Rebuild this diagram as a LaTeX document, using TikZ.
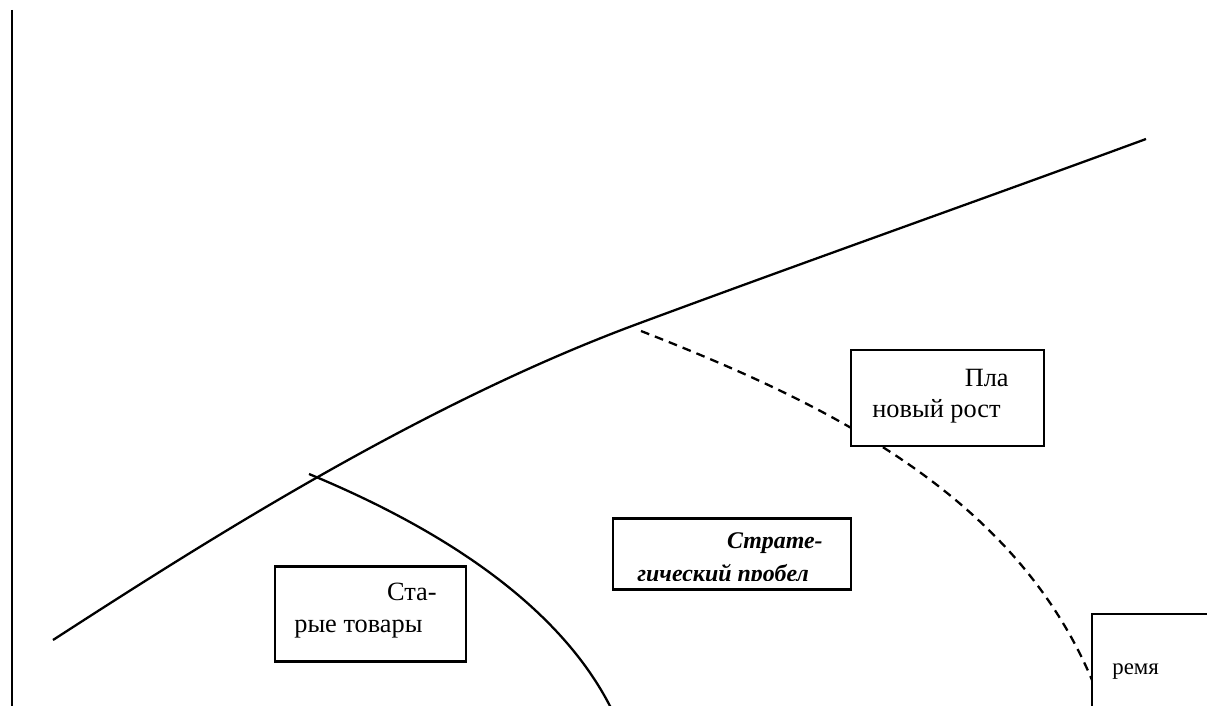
\documentclass[tikz,border=0pt]{standalone}
\usepackage{fontspec}
\setmainfont{Liberation Serif}
\usetikzlibrary{positioning}

\begin{document}
\begin{tikzpicture}[x=0.02cm, y=-0.02cm,
		box/.style={draw, rectangle, fill=white, line width=1.2pt, inner sep=0pt},
		lbl/.style={inner sep=0pt, font=\fontsize{15}{18}\selectfont},
		boldlbl/.style={inner sep=0pt, font=\fontsize{13.6}{16}\selectfont\bfseries\itshape},
		trend/.style={line width=1.3pt},
		gapline/.style={line width=1.3pt, dash pattern=on 5pt off 3.5pt}]
		\useasboundingbox (0,0) rectangle (1207,706);
		\coordinate (axtop) at (12,10);
		\coordinate (axbot) at (12,706);
		\coordinate (mainstart) at (53,640);
		\coordinate (mainmid) at (640,323);
		\coordinate (mainend) at (1146,139);
		\coordinate (oldfork) at (309,474);
		\coordinate (oldend) at (612,710);
		\coordinate (gapfork) at (641,331);
		\coordinate (gapend) at (1102,706);
		% axis
		\draw [trend] (axtop) -- (axbot);
		% curves
		\draw [trend] (mainstart) .. controls (200,545) and (420,404) .. (mainmid)
			.. controls (810,260) and (980,200) .. (mainend);
		\draw [trend] (oldfork) .. controls (420,520) and (555,595) .. (oldend);
		\draw [gapline] (gapfork) .. controls (830,405) and (1030,500) .. (gapend);
		% boxes
		\node [box, minimum width=3.86cm, minimum height=1.92cm] (plan) at (947.5,398) {};
		\node [box, minimum width=4.76cm, minimum height=1.42cm] (gap) at (732,554) {};
		\node [box, minimum width=3.82cm, minimum height=1.9cm] (old) at (370.5,614) {};
		\node [box, minimum width=4cm, minimum height=2.92cm] (time) at (1192,687) {};
		% texts
		\node [lbl, anchor=base east] (plan1) at (1009,386) {Пла};
		\node [lbl, anchor=base west] (plan2) at (872,417) {новый рост};
		\node [boldlbl, anchor=base east] (gap1) at (823,548) {Страте-};
		\begin{scope}
			\clip (614,519) rectangle (850,580);
			\node [boldlbl, anchor=base west] (gap2) at (637,581) {гический пробел};
		\end{scope}
		\node [lbl, anchor=base east] (old1) at (437,600) {Ста-};
		\node [lbl, anchor=base west] (old2) at (294,632) {рые товары};
		\node [lbl, anchor=base west, font=\fontsize{13}{16}\selectfont] (time1) at (1112,674) {ремя};
	\end{tikzpicture}
\end{document}
